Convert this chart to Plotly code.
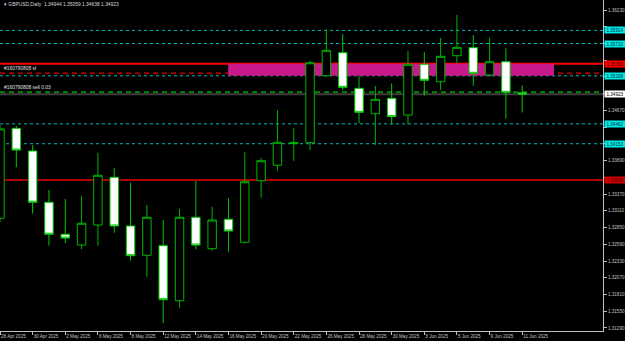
import plotly.graph_objects as go

# ---------------- data ----------------
dates = ["28 Apr 2025", "29 Apr 2025", "30 Apr 2025", "1 May 2025", "2 May 2025",
         "5 May 2025", "6 May 2025", "7 May 2025", "8 May 2025", "9 May 2025",
         "12 May 2025", "13 May 2025", "14 May 2025", "15 May 2025", "16 May 2025",
         "19 May 2025", "20 May 2025", "21 May 2025", "22 May 2025", "23 May 2025",
         "26 May 2025", "27 May 2025", "28 May 2025", "29 May 2025", "30 May 2025",
         "2 Jun 2025", "3 Jun 2025", "4 Jun 2025", "5 Jun 2025", "6 Jun 2025",
         "9 Jun 2025", "10 Jun 2025", "11 Jun 2025"]

opens = [1.32994, 1.34392, 1.34040, 1.33243, 1.32746, 1.32579, 1.32890, 1.33631, 1.32875, 1.32419,
         1.32569, 1.31714, 1.33010, 1.32522, 1.32979, 1.32621, 1.33578, 1.33818, 1.34156, 1.34169,
         1.35210, 1.35567, 1.35014, 1.34619, 1.34858, 1.34599, 1.35387, 1.35116, 1.35520, 1.35645,
         1.35220, 1.35427, 1.34944]
highs = [1.34444, 1.34428, 1.34133, 1.33434, 1.33294, 1.33345, 1.34013, 1.33780, 1.33547, 1.33201,
         1.32968, 1.33139, 1.33574, 1.33174, 1.33305, 1.34020, 1.33931, 1.34677, 1.34392, 1.35443,
         1.35930, 1.35857, 1.35205, 1.35050, 1.35091, 1.35593, 1.35578, 1.35795, 1.36153, 1.35842,
         1.35800, 1.35635, 1.35059]
lows = [1.32937, 1.33787, 1.33066, 1.32569, 1.32606, 1.32513, 1.32569, 1.32771, 1.32336, 1.32087,
        1.31363, 1.31605, 1.32513, 1.32491, 1.32475, 1.32603, 1.33314, 1.33734, 1.33889, 1.34055,
        1.35197, 1.34987, 1.34470, 1.34133, 1.34444, 1.34455, 1.34899, 1.34987, 1.35402, 1.35054,
        1.35194, 1.34542, 1.34638]
closes = [1.34382, 1.34055, 1.33243, 1.32746, 1.32688, 1.32917, 1.33662, 1.32875, 1.32413, 1.33010,
          1.31730, 1.33010, 1.32579, 1.32968, 1.32797, 1.33563, 1.33889, 1.34175, 1.34169, 1.35411,
          1.35604, 1.35029, 1.34641, 1.34843, 1.34573, 1.35387, 1.35138, 1.35511, 1.35651, 1.35247,
          1.35427, 1.34952, 1.34923]

ytick_vals = [1.31290, 1.31550, 1.31810, 1.32070, 1.32330, 1.32590, 1.32850, 1.33110, 1.33370,
              1.33630, 1.33890, 1.34150, 1.34410, 1.34670, 1.34930, 1.35190, 1.35450, 1.35710,
              1.35970, 1.36230]
# tick values whose text is covered by a coloured price label in the reference
ytick_hidden = [1.33630, 1.34150, 1.34410, 1.34930, 1.35190, 1.35450, 1.35710, 1.35970]
ytick_text = ["" if v in ytick_hidden else "%.5f" % v for v in ytick_vals]

xtick_idx = list(range(0, len(dates), 2))
xtick_text = [dates[i] for i in xtick_idx]

cyan_levels = [1.35914, 1.35710, 1.35208, 1.34462, 1.34153]
red_level_top = 1.35396
red_level_low = 1.33588
sl_level = 1.35247
sell_level = 1.34952
bid_level = 1.34923
zone_x = [13.98, 33.95]
zone_y = [1.35208, 1.35396]

header = "GBPUSD,Daily  1.34944 1.35059 1.34638 1.34923"
sl_text = "#160790808 sl"
sell_text = "#160790808 sell 0.03"

# ---------------- figure ----------------
x = list(range(len(dates)))
FONT = "Liberation Sans"
AX = "#c0c0c0"

fig = go.Figure()
fig.add_trace(go.Candlestick(
    x=x, open=opens, high=highs, low=lows, close=closes,
    increasing=dict(line=dict(color="#00b400", width=1), fillcolor="#000000"),
    decreasing=dict(line=dict(color="#00c800", width=1), fillcolor="#ffffff"),
    whiskerwidth=0, hoverinfo="skip", showlegend=False,
))

shapes = []
shapes.append(dict(type="rect", xref="x", yref="y", x0=zone_x[0], x1=zone_x[1],
                   y0=zone_y[0], y1=zone_y[1], fillcolor="#c9188a",
                   line=dict(width=0), layer="below"))
for lv in cyan_levels:
    shapes.append(dict(type="line", xref="paper", yref="y", x0=0, x1=1, y0=lv, y1=lv,
                       line=dict(color="#00b8c0", width=1, dash="dot"), layer="below"))
shapes.append(dict(type="line", xref="paper", yref="y", x0=0, x1=1, y0=red_level_top, y1=red_level_top,
                   line=dict(color="#ff0000", width=2), layer="below"))
shapes.append(dict(type="line", xref="paper", yref="y", x0=0, x1=1, y0=red_level_low, y1=red_level_low,
                   line=dict(color="#b00000", width=2), layer="below"))
shapes.append(dict(type="line", xref="paper", yref="y", x0=0, x1=1, y0=sl_level, y1=sl_level,
                   line=dict(color="#a00000", width=2, dash="5px,4px"), layer="below"))
shapes.append(dict(type="line", xref="paper", yref="y", x0=0, x1=1, y0=sell_level, y1=sell_level,
                   line=dict(color="#008c00", width=2, dash="5px,4px"), layer="below"))
shapes.append(dict(type="line", xref="paper", yref="y", x0=0, x1=1, y0=bid_level, y1=bid_level,
                   line=dict(color="#3c3c3c", width=2), layer="below"))

annotations = []
annotations.append(dict(xref="paper", yref="paper", x=0.003, y=1, xanchor="left", yanchor="top",
                        yshift=0, text="\u25BE " + header, showarrow=False,
                        font=dict(family=FONT, size=4.9, color="#d8d8d8")))
annotations.append(dict(xref="paper", yref="y", x=0.003, y=sl_level, xanchor="left", yanchor="bottom",
                        yshift=0, text=sl_text, showarrow=False,
                        font=dict(family=FONT, size=4.9, color="#e0e0e0")))
annotations.append(dict(xref="paper", yref="y", x=0.003, y=sell_level, xanchor="left", yanchor="bottom",
                        yshift=0, text=sell_text, showarrow=False,
                        font=dict(family=FONT, size=4.9, color="#e0e0e0")))

price_labels = [(1.35914, "#00e8e8", "#003030"), (1.35710, "#00e8e8", "#003030"),
                (red_level_top, "#ff0000", "#400000"), (1.35208, "#00e8e8", "#003030"),
                (bid_level, "#ffffff", "#000000"), (1.34462, "#00e8e8", "#003030"),
                (1.34153, "#00e8e8", "#003030"), (red_level_low, "#d00000", "#500000")]
for lv, bg, fg in price_labels:
    annotations.append(dict(xref="paper", yref="y", x=1, y=lv, xanchor="left", yanchor="middle",
                            xshift=1, text="%.5f" % lv, showarrow=False, bgcolor=bg, borderpad=0.5,
                            width=19, align="center",
                            font=dict(family=FONT, size=4.6, color=fg)))

fig.update_layout(
    width=625, height=341,
    margin=dict(l=0, r=22, t=0, b=10, pad=0, autoexpand=False),
    paper_bgcolor="#000000", plot_bgcolor="#000000",
    boxgap=0.26,
    shapes=shapes, annotations=annotations,
    showlegend=False,
    xaxis=dict(range=[0.0, 36.95], rangeslider=dict(visible=False), showgrid=False, zeroline=False,
               tickmode="array", tickvals=xtick_idx, ticktext=xtick_text, tickangle=0,
               automargin=False,
               ticks="outside", ticklen=3, tickcolor=AX, showline=True, linecolor=AX, linewidth=1,
               ticklabelposition="outside right",
               tickfont=dict(family=FONT, size=4.6, color=AX), fixedrange=True),
    yaxis=dict(range=[1.31243, 1.36386], side="right", showgrid=False, zeroline=False,
               tickmode="array", tickvals=ytick_vals, ticktext=ytick_text, automargin=False,
               ticks="outside", ticklen=3, tickcolor=AX, showline=True, linecolor=AX, linewidth=1,
               tickfont=dict(family=FONT, size=4.6, color=AX), fixedrange=True),
)

fig.write_html("out.html")
